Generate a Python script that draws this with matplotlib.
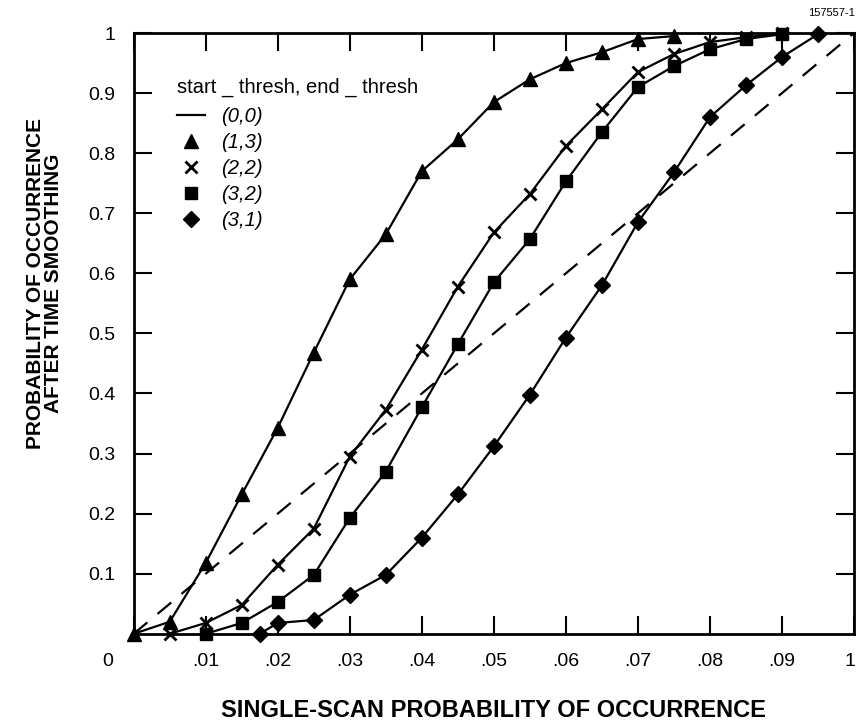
import matplotlib
matplotlib.use('Agg')
import matplotlib.pyplot as plt
import matplotlib.transforms as mtransforms
from matplotlib.lines import Line2D
import numpy as np

plt.rcParams['font.family'] = ['Liberation Sans', 'DejaVu Sans']

# data
x_00 = [0.0, 0.1]
y_00 = [0.0, 1.0]

x_13 = [0.0, 0.005, 0.01, 0.015, 0.02, 0.025, 0.03, 0.035, 0.04, 0.045,
        0.05, 0.055, 0.06, 0.065, 0.07, 0.075]
y_13 = [0.0, 0.02, 0.118, 0.232, 0.343, 0.468, 0.59, 0.665, 0.77, 0.823,
        0.885, 0.923, 0.95, 0.968, 0.99, 0.995]

x_22 = [0.005, 0.01, 0.015, 0.02, 0.025, 0.03, 0.035, 0.04, 0.045, 0.05,
        0.055, 0.06, 0.065, 0.07, 0.075, 0.08, 0.085, 0.09]
y_22 = [0.0, 0.018, 0.048, 0.115, 0.175, 0.295, 0.373, 0.473, 0.578, 0.668,
        0.732, 0.812, 0.873, 0.935, 0.965, 0.985, 0.993, 1.0]

x_32 = [0.01, 0.015, 0.02, 0.025, 0.03, 0.035, 0.04, 0.045, 0.05,
        0.055, 0.06, 0.065, 0.07, 0.075, 0.08, 0.085, 0.09]
y_32 = [0.0, 0.018, 0.053, 0.098, 0.193, 0.27, 0.377, 0.482, 0.585,
        0.657, 0.753, 0.835, 0.91, 0.945, 0.973, 0.99, 0.998]

x_31 = [0.0175, 0.02, 0.025, 0.03, 0.035, 0.04, 0.045, 0.05, 0.055,
        0.06, 0.065, 0.07, 0.075, 0.08, 0.085, 0.09, 0.095]
y_31 = [0.0, 0.018, 0.023, 0.065, 0.098, 0.16, 0.232, 0.312, 0.398,
        0.493, 0.58, 0.685, 0.768, 0.86, 0.913, 0.96, 0.998]

x_ticks = [0, 0.01, 0.02, 0.03, 0.04, 0.05, 0.06, 0.07, 0.08, 0.09, 0.1]
x_labels = ['0', '.01', '.02', '.03', '.04', '.05', '.06', '.07', '.08', '.09', '1']
y_ticks = [0.1, 0.2, 0.3, 0.4, 0.5, 0.6, 0.7, 0.8, 0.9, 1.0]
y_labels = ['0.1', '0.2', '0.3', '0.4', '0.5', '0.6', '0.7', '0.8', '0.9', '1']

fig = plt.figure(figsize=(8.57, 7.26), dpi=100)
ax = fig.add_axes([0.156, 0.127, 0.8405, 0.8275])

lw = 1.6
ax.plot(x_00, y_00, color='black', lw=lw, dashes=(8, 6), clip_on=False)
ax.plot(x_13, y_13, color='black', lw=lw, marker='^', ms=10.5, clip_on=False)
ax.plot(x_22, y_22, color='black', lw=lw, marker='x', ms=9, mew=2, clip_on=False)
ax.plot(x_32, y_32, color='black', lw=lw, marker='s', ms=8.5, clip_on=False)
ax.plot(x_31, y_31, color='black', lw=lw, marker='D', ms=8.5, clip_on=False)

ax.set_xlim(0, 0.1)
ax.set_ylim(0, 1)

for s in ax.spines.values():
    s.set_linewidth(2)

ax.set_xticks(x_ticks)
ax.set_xticklabels(x_labels)
ax.set_yticks(y_ticks)
ax.set_yticklabels(y_labels)
ax.tick_params(axis='both', direction='in', length=13, width=1.5,
               labelsize=14, top=True, right=True)
ax.tick_params(axis='x', pad=14)
ax.tick_params(axis='y', pad=13)

# shift the first and last x labels like the original
xl = ax.get_xticklabels()
xl[0].set_transform(xl[0].get_transform() +
                    mtransforms.ScaledTranslation(-26 / 100, 0, fig.dpi_scale_trans))
xl[-1].set_transform(xl[-1].get_transform() +
                     mtransforms.ScaledTranslation(-4 / 100, 0, fig.dpi_scale_trans))

ax.set_xlabel('SINGLE-SCAN PROBABILITY OF OCCURRENCE', fontsize=17,
              fontweight='bold', labelpad=21)
fig.text(0.052, 0.61, 'PROBABILITY OF OCCURRENCE\nAFTER TIME SMOOTHING',
         rotation=90, ha='center', va='center', fontsize=15,
         fontweight='bold', linespacing=0.95)

fig.text(0.998, 0.975, '157557-1', ha='right', va='bottom', fontsize=8)

handles = [
    Line2D([], [], color='black', lw=lw),
    Line2D([], [], color='black', ls='none', marker='^', ms=10.5),
    Line2D([], [], color='black', ls='none', marker='x', ms=9, mew=2),
    Line2D([], [], color='black', ls='none', marker='s', ms=8.5),
    Line2D([], [], color='black', ls='none', marker='D', ms=8.5),
]
leg = ax.legend(handles, ['(0,0)', '(1,3)', '(2,2)', '(3,2)', '(3,1)'],
                title='start _ thresh, end _ thresh', loc='upper left',
                bbox_to_anchor=(0.035, 0.955), frameon=False,
                handlelength=1.4, handletextpad=0.8, labelspacing=0.35,
                prop={'size': 14.5, 'style': 'italic'}, title_fontsize=14.5)
leg._legend_box.align = 'left'
leg._legend_box.sep = 7

fig.savefig('out.png', dpi=100)
